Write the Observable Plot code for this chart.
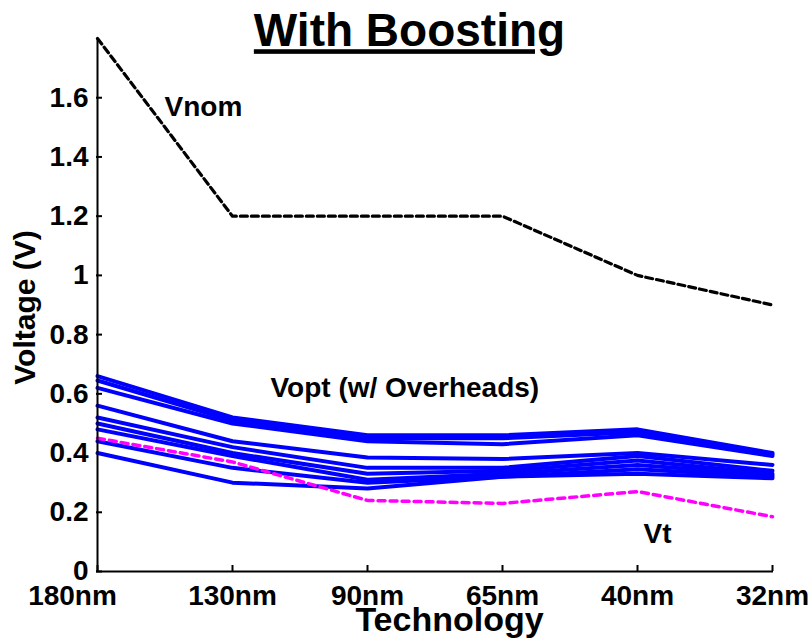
<!DOCTYPE html>
<html>
<head>
<meta charset="utf-8">
<script src="https://cdn.jsdelivr.net/npm/d3@7"></script>
<script src="https://cdn.jsdelivr.net/npm/@observablehq/plot@0.6"></script>
<style>
  html, body { margin: 0; padding: 0; background: #fff; }
  #chart { width: 812px; height: 639px; }
</style>
</head>
<body>
<div id="chart"></div>
<script>
// ---- data ----
const categories = ["180nm", "130nm", "90nm", "65nm", "40nm", "32nm"];
const vnom = [1.8, 1.2, 1.2, 1.2, 1.0, 0.9];
const vt   = [0.45, 0.37, 0.24, 0.23, 0.27, 0.185];
const vopt1 = [0.66, 0.52, 0.46, 0.46, 0.48, 0.40];
const vopt2 = [0.645, 0.51, 0.45, 0.45, 0.47, 0.395];
const vopt3 = [0.62, 0.50, 0.44, 0.43, 0.46, 0.39];
const vopt4 = [0.56, 0.44, 0.385, 0.38, 0.40, 0.36];
const vopt5 = [0.52, 0.42, 0.35, 0.35, 0.39, 0.34];
const vopt6 = [0.50, 0.40, 0.33, 0.34, 0.375, 0.33];
const vopt7 = [0.48, 0.39, 0.31, 0.33, 0.36, 0.325];
const vopt8 = [0.44, 0.35, 0.30, 0.32, 0.345, 0.32];
const vopt9 = [0.40, 0.30, 0.28, 0.32, 0.33, 0.315];
const voptSeries = [vopt1, vopt2, vopt3, vopt4, vopt5, vopt6, vopt7, vopt8, vopt9];
const yTicks = [0, 0.2, 0.4, 0.6, 0.8, 1, 1.2, 1.4, 1.6];
const yTickLabels = ["0", "0.2", "0.4", "0.6", "0.8", "1", "1.2", "1.4", "1.6"];
const titleText = "With Boosting";
const xLabel = "Technology";
const yLabel = "Voltage (V)";

// ---- tables built from arrays ----
const voptRows = voptSeries.flatMap((s, k) => s.map((v, i) => ({series: k, tech: categories[i], v})));
const vnomRows = vnom.map((v, i) => ({tech: categories[i], v}));
const vtRows = vt.map((v, i) => ({tech: categories[i], v}));

const W = 812, H = 639, mL = 96, mR = 39, mT = 38, mB = 68;
const FONT = "'Liberation Sans', Arial, Helvetica, sans-serif";
const xAxisOpts = {tickSize: 0, tickPadding: 14, fontSize: 28, label: null};

const chart = Plot.plot({
  width: W, height: H,
  marginLeft: mL, marginRight: mR, marginTop: mT, marginBottom: mB,
  style: {fontFamily: FONT, fontWeight: "bold", background: "#fff", color: "#000", overflow: "visible"},
  x: {type: "point", domain: categories, padding: 0, label: null},
  y: {domain: [0, 1.8], label: null},
  marks: [
    // axes
    Plot.axisX(categories.slice(1), xAxisOpts),
    Plot.axisX(categories.slice(0, 1), {...xAxisOpts, dx: -25}),
    Plot.axisY({ticks: yTicks, tickSize: 0, tickPadding: 8, fontSize: 28, label: null,
      tickFormat: (d) => yTickLabels[yTicks.indexOf(d)]}),
    // inward tick marks
    Plot.tickY(yTicks, {y: (d) => d, insetRight: (W - mL - mR) - 6, stroke: "#000", strokeWidth: 2}),
    Plot.tickX(categories, {x: (d) => d, insetTop: (H - mT - mB) - 6, stroke: "#000", strokeWidth: 2}),
    // data lines
    Plot.line(voptRows, {x: "tech", y: "v", z: "series", stroke: "#0000ff", strokeWidth: 4}),
    Plot.line(vtRows, {x: "tech", y: "v", stroke: "#ff00ff", strokeWidth: 3.5, strokeDasharray: "7,5"}),
    Plot.line(vnomRows, {x: "tech", y: "v", stroke: "#000", strokeWidth: 3.2, strokeDasharray: "7,4"}),
    // axis lines
    Plot.ruleX([categories[0]], {stroke: "#000", strokeWidth: 2}),
    Plot.ruleY([0], {stroke: "#000", strokeWidth: 2}),
    // annotations
    Plot.text(["Vnom"], {x: () => categories[0], y: () => 1.57, text: (d) => d, dx: 67, textAnchor: "start", lineAnchor: "middle", fontSize: 28}),
    Plot.text(["Vopt (w/ Overheads)"], {x: () => categories[1], y: () => 0.618, text: (d) => d, dx: 38, textAnchor: "start", lineAnchor: "middle", fontSize: 28}),
    Plot.text(["Vt"], {x: () => categories[4], y: () => 0.125, text: (d) => d, dx: 6, textAnchor: "start", lineAnchor: "middle", fontSize: 28}),
    // titles
    Plot.text([titleText], {frameAnchor: "top", text: (d) => d, dx: -25.5, dy: -7, textAnchor: "middle", lineAnchor: "middle", fontSize: 46, className: "ttl"}),
    Plot.text([xLabel], {frameAnchor: "bottom", text: (d) => d, dx: 14.5, dy: 49, textAnchor: "middle", lineAnchor: "middle", fontSize: 34}),
    Plot.text([yLabel], {frameAnchor: "left", text: (d) => d, dx: -71, dy: 2.5, rotate: -90, textAnchor: "middle", lineAnchor: "middle", fontSize: 30})
  ]
});
d3.select(chart).selectAll(".ttl text").style("text-decoration", "underline");
document.getElementById("chart").appendChild(chart);
</script>
</body>
</html>
